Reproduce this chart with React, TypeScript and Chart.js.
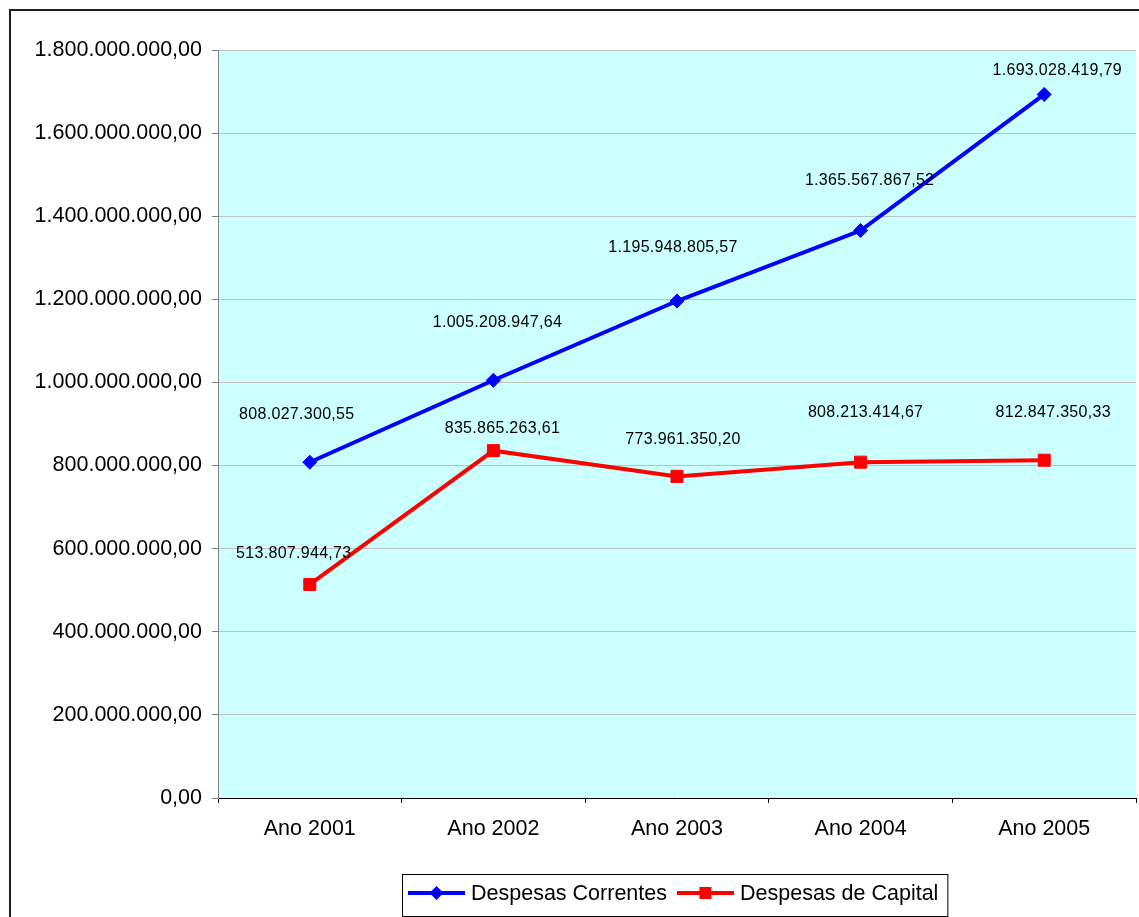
import React, { useEffect, useRef } from "react";
import { Chart, registerables } from "chart.js";

Chart.register(...registerables);

const categories = ["Ano 2001", "Ano 2002", "Ano 2003", "Ano 2004", "Ano 2005"];
const despesasCorrentes = [808027300.55, 1005208947.64, 1195948805.57, 1365567867.52, 1693028419.79];
const despesasCapital = [513807944.73, 835865263.61, 773961350.2, 808213414.67, 812847350.33];
const seriesNames = ["Despesas Correntes", "Despesas de Capital"];
const seriesColors = ["#0000FF", "#FF0000"];

// where each value label sits relative to its point (dx, dy in px)
const correntesLabelNudge = [[-13, -48], [4, -58], [-4, -53], [9, -50], [13, -24]];
const capitalLabelNudge = [[-16, -31], [9, -22], [6, -37], [5, -50], [9, -48]];

const FONT = "'Liberation Sans', Arial, sans-serif";

function formatBR(v: number): string {
  const fixed = Math.abs(v).toFixed(2);
  const [intPart, dec] = fixed.split(".");
  const grouped = intPart.replace(/\B(?=(\d{3})+(?!\d))/g, ".");
  return (v < 0 ? "-" : "") + grouped + "," + dec;
}

const frameAndBackground = {
  id: "frameAndBackground",
  beforeDraw(chart: any) {
    const { ctx, chartArea } = chart;
    ctx.save();
    ctx.fillStyle = "#ffffff";
    ctx.fillRect(0, 0, chart.width, chart.height);
    ctx.fillStyle = "#CCFFFF";
    ctx.fillRect(chartArea.left, chartArea.top, chartArea.right - chartArea.left, chartArea.bottom - chartArea.top);
    ctx.strokeStyle = "#202020";
    ctx.lineWidth = 2;
    ctx.strokeRect(10, 10, chart.width + 50, chart.height + 50);
    ctx.restore();
  },
};

const valueLabels = {
  id: "valueLabels",
  afterDatasetsDraw(chart: any, _args: any, opts: any) {
    const { ctx } = chart;
    ctx.save();
    ctx.font = `16px ${FONT}`;
    (ctx as any).letterSpacing = "0.3px";
    ctx.fillStyle = "#000";
    ctx.textAlign = "center";
    ctx.textBaseline = "middle";
    chart.data.datasets.forEach((ds: any, di: number) => {
      const meta = chart.getDatasetMeta(di);
      const nudges = opts.nudges[di];
      meta.data.forEach((pt: any, i: number) => {
        const [dx, dy] = nudges[i];
        ctx.fillText(formatBR(ds.data[i]), pt.x + dx, pt.y + dy);
      });
    });
    ctx.restore();
  },
};

const boxedLegend = {
  id: "boxedLegend",
  afterDraw(chart: any) {
    const { ctx, chartArea } = chart;
    const datasets = chart.data.datasets;
    ctx.save();
    ctx.font = `21.5px ${FONT}`;
    const lineLen = 57;
    const padL = 6;
    const gapIcon = 6;
    const gapItem = 10;
    const widths = datasets.map((d: any) => ctx.measureText(d.label).width);
    let total = padL;
    widths.forEach((w: number, i: number) => {
      total += lineLen + gapIcon + w + (i < widths.length - 1 ? gapItem : padL + 3);
    });
    const cx = (chartArea.left + chartArea.right) / 2 - 2;
    const left = Math.round(cx - total / 2);
    const top = 874;
    const h = 42;
    const midY = top + h / 2 - 2;
    ctx.strokeStyle = "#000";
    ctx.lineWidth = 1;
    ctx.strokeRect(left + 0.5, top + 0.5, total, h);
    let x = left + padL;
    datasets.forEach((d: any, i: number) => {
      ctx.strokeStyle = d.borderColor;
      ctx.lineWidth = 4;
      ctx.beginPath();
      ctx.moveTo(x, midY);
      ctx.lineTo(x + lineLen, midY);
      ctx.stroke();
      const mx = x + lineLen / 2;
      ctx.fillStyle = d.borderColor;
      ctx.beginPath();
      if (d.pointStyle === "rectRot") {
        const r = 7;
        ctx.moveTo(mx, midY - r);
        ctx.lineTo(mx + r, midY);
        ctx.lineTo(mx, midY + r);
        ctx.lineTo(mx - r, midY);
        ctx.closePath();
      } else {
        ctx.rect(mx - 6, midY - 6, 12, 12);
      }
      ctx.fill();
      x += lineLen + gapIcon;
      ctx.fillStyle = "#000";
      ctx.textAlign = "left";
      ctx.textBaseline = "middle";
      ctx.fillText(d.label, x, midY + 1);
      x += widths[i] + gapItem;
    });
    ctx.restore();
  },
};

export default function App() {
  const canvasRef = useRef<HTMLCanvasElement | null>(null);

  useEffect(() => {
    if (!canvasRef.current) return;
    const chart = new Chart(canvasRef.current, {
      type: "line",
      data: {
        labels: categories,
        datasets: [
          {
            label: seriesNames[0],
            data: despesasCorrentes,
            borderColor: seriesColors[0],
            backgroundColor: seriesColors[0],
            borderWidth: 4,
            pointStyle: "rectRot",
            pointRadius: 7,
            pointBorderWidth: 1,
            tension: 0,
          },
          {
            label: seriesNames[1],
            data: despesasCapital,
            borderColor: seriesColors[1],
            backgroundColor: seriesColors[1],
            borderWidth: 4,
            pointStyle: "rect",
            pointRadius: 8.5,
            pointBorderWidth: 1,
            tension: 0,
          },
        ],
      },
      options: {
        responsive: false,
        animation: false,
        devicePixelRatio: 1,
        layout: { autoPadding: false, padding: { left: 12, top: 50, right: 3, bottom: 69 } },
        plugins: {
          legend: { display: false },
          tooltip: { enabled: false },
          valueLabels: { nudges: [correntesLabelNudge, capitalLabelNudge] },
        } as any,
        scales: {
          x: {
            offset: true,
            grid: {
              offset: true,
              drawOnChartArea: false,
              drawTicks: true,
              tickLength: 5,
              color: "#000",
            },
            border: { color: "#000", width: 1 },
            ticks: {
              color: "#000",
              padding: 13,
              font: { family: FONT, size: 21.5 },
            },
            afterFit: (s: any) => {
              s.height = 50;
              s.paddingLeft = 0;
              s.paddingRight = 0;
            },
          },
          y: {
            min: 0,
            max: 1800000000,
            grid: {
              color: "#C0C0C0",
              tickLength: 6,
              tickColor: "#808080",
            },
            border: { color: "#808080", width: 1 },
            ticks: {
              stepSize: 200000000,
              color: "#000",
              padding: 10,
              font: { family: FONT, size: 21.5 },
              callback: (v: any) => formatBR(Number(v)),
            },
            afterFit: (s: any) => {
              s.width = 206;
              s.paddingTop = 0;
              s.paddingBottom = 0;
            },
          },
        },
      },
      plugins: [frameAndBackground, valueLabels, boxedLegend],
    });
    return () => chart.destroy();
  }, []);

  return (
    <div style={{ position: "absolute", left: 0, top: 0, width: 1139, height: 917 }}>
      <canvas ref={canvasRef} width={1139} height={917} style={{ display: "block" }} />
    </div>
  );
}
